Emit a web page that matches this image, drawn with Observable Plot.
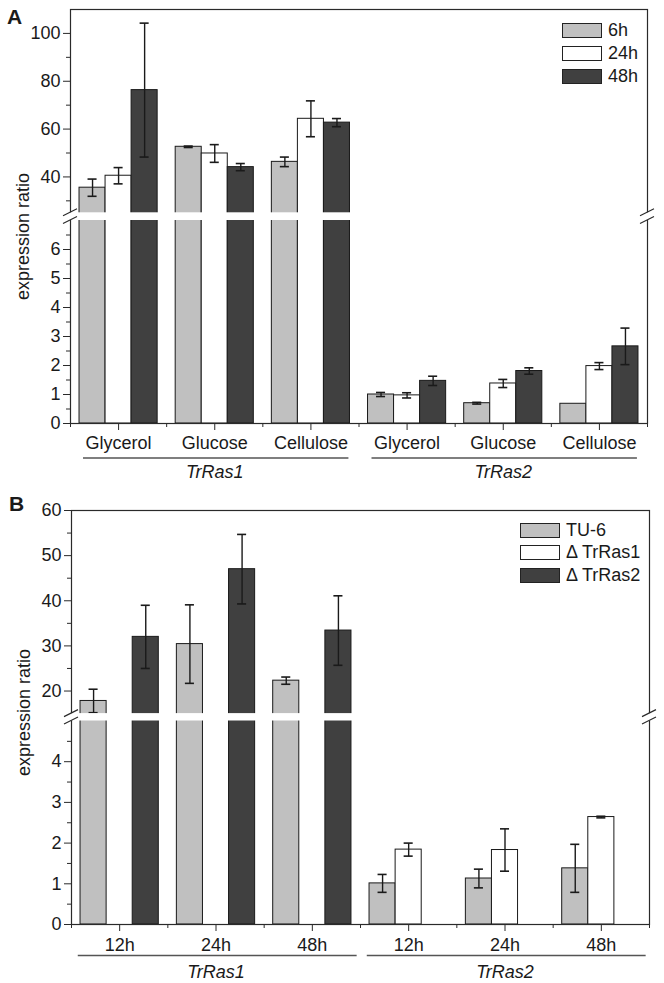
<!DOCTYPE html>
<html>
<head>
<meta charset="utf-8">
<script src="https://cdn.jsdelivr.net/npm/d3@7"></script>
<script src="https://cdn.jsdelivr.net/npm/@observablehq/plot@0.6"></script>
<style>
  body { margin: 0; background: #fff; }
  #wrap { position: relative; width: 664px; height: 983px; font-family: "Liberation Sans", Arial, sans-serif; color: #1a1a1a; }
  .panel { position: absolute; left: 0; }
  .letter { position: absolute; font-weight: bold; font-size: 21px; line-height: 21px; }
  .legend { position: absolute; font-size: 18px; }
  .legend .row { display: flex; align-items: center; height: 22.6px; }
  .legend .sw { width: 38px; height: 13px; border: 1px solid #222; margin-right: 6px; }
</style>
</head>
<body>
<div id="wrap"></div>
<script>
// ---------------- Panel A data ----------------
const catsA = ["Glycerol", "Glucose", "Cellulose", "Glycerol", "Glucose", "Cellulose"];
const genesA = ["TrRas1", "TrRas2"];
const seriesA = ["6h", "24h", "48h"];
const valuesA_6h  = [35.5, 52.6, 46.3, 1.00, 0.70, 0.68];
const errorsA_6h  = [3.6, 0.3, 2.0, 0.07, 0.03, null];
const valuesA_24h = [40.5, 49.8, 64.3, 0.97, 1.38, 1.98];
const errorsA_24h = [3.4, 3.7, 7.5, 0.09, 0.14, 0.12];
const valuesA_48h = [76.3, 44.1, 62.7, 1.47, 1.81, 2.66];
const errorsA_48h = [28.0, 1.5, 1.7, 0.16, 0.11, 0.63];
const majorTicksA = [0, 1, 2, 3, 4, 5, 6, 40, 60, 80, 100];
const minorTicksA = [0.5, 1.5, 2.5, 3.5, 4.5, 5.5, 6.5, 30, 50, 70, 90];
const breakA = [7, 25, 110];

// ---------------- Panel B data ----------------
const catsB = ["12h", "24h", "48h", "12h", "24h", "48h"];
const genesB = ["TrRas1", "TrRas2"];
const seriesB = ["TU-6", "Δ TrRas1", "Δ TrRas2"];
const valuesB_TU6  = [17.8, 30.4, 22.3, 1.01, 1.13, 1.38];
const errorsB_TU6  = [2.6, 8.7, 0.8, 0.22, 0.23, 0.59];
const valuesB_dR1  = [null, null, null, 1.84, 1.83, 2.64];
const errorsB_dR1  = [null, null, null, 0.16, 0.52, 0.02];
const valuesB_dR2  = [32.0, 47.0, 33.4, null, null, null];
const errorsB_dR2  = [7.0, 7.7, 7.7, null, null, null];
const majorTicksB = [0, 1, 2, 3, 4, 20, 30, 40, 50, 60];
const minorTicksB = [0.5, 1.5, 2.5, 3.5, 4.5, 25, 35, 45, 55];
const breakB = [5, 15, 60];

const fills = ["#c0c0c0", "#ffffff", "#404040"];
const ink = "#1a1a1a";

function drawPanel(cfg) {
  const bw = 0.2708, cap = 0.047;
  const rows = [];
  cfg.series.forEach((s, j) => cfg.values[j].forEach((v, i) => {
    if (v == null) return;
    rows.push({i, j, s, v, e: cfg.errors[j][i],
      x1: i + 0.5 + (j - 1.5) * bw, x2: i + 0.5 + (j - 0.5) * bw, xc: i + 0.5 + (j - 1) * bw});
  }));
  const errRows = rows.filter(d => d.e != null && d.e > 0);
  const bottom = cfg.height - cfg.marginBottom;
  const yRange = [bottom, bottom - cfg.lowerPx, bottom - cfg.lowerPx - cfg.gapPx, cfg.marginTop];
  const groups = cfg.genes.map((g, k) => ({name: g, a: k * 3 + cfg.bracket[0], b: k * 3 + cfg.bracket[1], c: k * 3 + 1.5}));
  const centers = d3.range(6).map(i => i + 0.5);
  const bounds = d3.range(7);

  const plot = Plot.plot({
    width: 664, height: cfg.height,
    marginLeft: cfg.marginLeft, marginRight: cfg.marginRight,
    marginTop: cfg.marginTop, marginBottom: cfg.marginBottom,
    style: {fontFamily: '"Liberation Sans", Arial, sans-serif', fontSize: "18px", color: ink, background: "white", overflow: "visible"},
    x: {type: "linear", domain: [0, 6], axis: null},
    y: {type: "linear", domain: [0, cfg.brk[0], cfg.brk[1], cfg.brk[2]], range: yRange, axis: null},
    color: {domain: cfg.series, range: fills},
    marks: [
      Plot.rect(rows, {x1: "x1", x2: "x2", y1: 0, y2: "v", fill: "s", stroke: ink, strokeWidth: 1}),
      Plot.link(errRows, {x1: "xc", x2: "xc", y1: d => d.v - d.e, y2: d => d.v + d.e, stroke: ink, strokeWidth: 1.4}),
      Plot.ruleY(errRows, {y: d => d.v + d.e, x1: d => d.xc - cap, x2: d => d.xc + cap, stroke: ink, strokeWidth: 1.6}),
      Plot.ruleY(errRows, {y: d => d.v - d.e, x1: d => d.xc - cap, x2: d => d.xc + cap, stroke: ink, strokeWidth: 1.6}),
      Plot.frame({stroke: "#2a2a2a", strokeWidth: 1.2}),
      Plot.axisY(cfg.major, {tickSize: 7, tickPadding: 3, label: null, tickFormat: d => String(d), stroke: "#2a2a2a"}),
      Plot.axisY(cfg.minor, {tickSize: 4, fill: "none", label: null, stroke: "#2a2a2a"}),
      Plot.axisX(centers, {tickSize: 7, tickPadding: cfg.xPad, label: null, tickFormat: d => cfg.cats[Math.floor(d)], stroke: "#2a2a2a"}),
      Plot.axisX(bounds, {tickSize: 4, fill: "none", label: null, stroke: "#2a2a2a"}),
      Plot.link(groups, {x1: "a", x2: "b", y1: 0, y2: 0, dy: cfg.bracketDy, stroke: "#555", strokeWidth: 1.3}),
      Plot.text(groups, {x: "c", y: 0, text: "name", dy: cfg.geneDy, fontStyle: "italic", fontSize: 18}),
      Plot.text(["expression ratio"], {frameAnchor: "left", textAnchor: "middle", rotate: -90, dx: -47, dy: cfg.ylabelDy, fontSize: 18}),
      Plot.rect([0], {x1: 0, x2: 6, y1: cfg.brk[0], y2: cfg.brk[1], fill: "white", insetLeft: -6, insetRight: -6})
    ]
  });

  // break marks "//" on the left and right axis lines
  const xs = plot.scale("x"), ys = plot.scale("y");
  const g = d3.select(plot).append("g").attr("stroke", "#2a2a2a").attr("stroke-width", 1.2);
  for (const xv of [0, 6]) for (const yv of [cfg.brk[0], cfg.brk[1]]) {
    const px = xs.apply(xv), py = ys.apply(yv);
    g.append("line").attr("x1", px - 7).attr("y1", py + 3.5).attr("x2", px + 7).attr("y2", py - 3.5);
  }
  return plot;
}

const wrap = document.getElementById("wrap");

const panelA = drawPanel({
  height: 490, marginLeft: 70, marginRight: 17, marginTop: 9, marginBottom: 67,
  lowerPx: 203, gapPx: 7.7, brk: breakA,
  cats: catsA, genes: genesA, series: seriesA,
  values: [valuesA_6h, valuesA_24h, valuesA_48h],
  errors: [errorsA_6h, errorsA_24h, errorsA_48h],
  major: majorTicksA, minor: minorTicksA,
  xPad: 6, bracket: [0.13, 2.89], bracketDy: 34.5, geneDy: 48.5, ylabelDy: 20
});
const panelB = drawPanel({
  height: 493, marginLeft: 71, marginRight: 15, marginTop: 20, marginBottom: 59,
  lowerPx: 203.5, gapPx: 7.4, brk: breakB,
  cats: catsB, genes: genesB, series: seriesB,
  values: [valuesB_TU6, valuesB_dR1, valuesB_dR2],
  errors: [errorsB_TU6, errorsB_dR1, errorsB_dR2],
  major: majorTicksB, minor: minorTicksB,
  xPad: 7, bracket: [0.065, 2.96], bracketDy: 31, geneDy: 47.7, ylabelDy: -5
});

function place(el, top) {
  const d = document.createElement("div");
  d.className = "panel"; d.style.top = top + "px";
  d.appendChild(el); wrap.appendChild(d);
}
place(panelA, 0);
place(panelB, 490);

function letter(t, left, top) {
  const d = document.createElement("div");
  d.className = "letter"; d.textContent = t;
  d.style.left = left + "px"; d.style.top = top + "px";
  wrap.appendChild(d);
}
letter("A", 7, 6);
letter("B", 9, 493);

function legend(series, left, top) {
  const d = document.createElement("div");
  d.className = "legend"; d.style.left = left + "px"; d.style.top = top + "px";
  series.forEach((s, j) => {
    const r = document.createElement("div"); r.className = "row";
    const sw = document.createElement("div"); sw.className = "sw"; sw.style.background = fills[j];
    const t = document.createElement("span"); t.textContent = s;
    r.appendChild(sw); r.appendChild(t); d.appendChild(r);
  });
  wrap.appendChild(d);
}
legend(seriesA, 562, 19.7);
legend(seriesB, 520, 519);
</script>
</body>
</html>
